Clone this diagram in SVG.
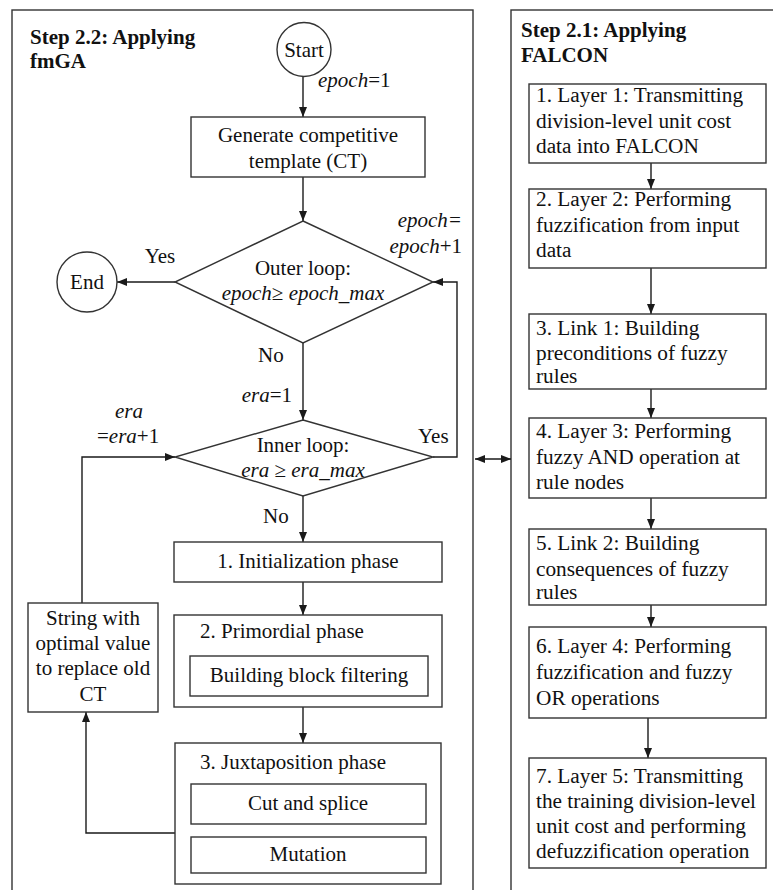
<svg xmlns="http://www.w3.org/2000/svg" width="773" height="890" viewBox="0 0 773 890">
<defs>
<marker id="ah" markerUnits="userSpaceOnUse" markerWidth="10" markerHeight="8" refX="10" refY="4" orient="auto-start-reverse">
<path d="M0,0 L10,4 L0,8 z" fill="#1a1a1a"/>
</marker>
</defs>
<style>
text{font-family:"Liberation Serif","Times New Roman",serif;font-size:21px;fill:#111}
.b{font-weight:bold}
.i{font-style:italic}
.c{text-anchor:middle}
.r{font-size:21.3px}
.box{fill:#fff;stroke:#333;stroke-width:1.4}
.panel{fill:none;stroke:#333;stroke-width:1.4}
.con path{fill:none;stroke:#1a1a1a;stroke-width:1.4}
.ar{marker-end:url(#ah)}
</style>
<rect width="773" height="890" fill="#fff"/>

<g id="panel-fmga">
<rect class="panel" x="12" y="10" width="461" height="900"/>
<text class="b" x="30" y="44">Step 2.2: Applying</text>
<text class="b" x="30" y="68">fmGA</text>
</g>
<g id="panel-falcon">
<rect class="panel" x="511" y="10" width="300" height="900"/>
<text class="b" x="521" y="37">Step 2.1: Applying</text>
<text class="b" x="521" y="62">FALCON</text>
</g>

<g class="con" id="connectors">
<path class="ar" d="M303,76 V117"/>
<path class="ar" d="M303,177 V221"/>
<path class="ar" d="M175,282 H117"/>
<path class="ar" d="M303,343 V420"/>
<path class="ar" d="M433,457 H457 V282 H433"/>
<path class="ar" d="M303,496 V542"/>
<path class="ar" d="M303,582 V615"/>
<path class="ar" d="M303,707 V743"/>
<path class="ar" d="M175,833 H86 V712"/>
<path class="ar" d="M82,603 V457 H175"/>
<path class="ar" d="M475,459 H511" style="marker-start:url(#ah)"/>
<path class="ar" d="M651,163 V189"/>
<path class="ar" d="M651,268 V314"/>
<path class="ar" d="M651,389 V418"/>
<path class="ar" d="M651,498 V529"/>
<path class="ar" d="M651,605 V627"/>
<path class="ar" d="M648,718 V758"/>
</g>

<g id="start">
<circle class="box" cx="304" cy="49.5" r="27"/>
<text class="c" x="304" y="57">Start</text>
</g>
<text x="318" y="87"><tspan class="i">epoch</tspan>=1</text>

<g id="generate">
<rect class="box" x="191" y="117" width="234" height="60"/>
<text class="c" x="308" y="142">Generate competitive</text>
<text class="c" x="308" y="168">template (CT)</text>
</g>

<g id="outer-loop">
<polygon class="box" points="303,221 433,282 303,343 175,282"/>
<text class="c" x="303" y="275">Outer loop:</text>
<text class="c" x="303" y="300"><tspan class="i">epoch</tspan>≥ <tspan class="i">epoch_max</tspan></text>
</g>
<text x="462" y="227" class="i" text-anchor="end">epoch=</text>
<text x="462" y="253" text-anchor="end"><tspan class="i">epoch</tspan>+1</text>

<g id="end">
<circle class="box" cx="87" cy="282" r="30"/>
<text class="c" x="87" y="289">End</text>
</g>
<text class="c" x="160" y="263">Yes</text>
<text x="258" y="362">No</text>
<text x="292" y="402" text-anchor="end"><tspan class="i">era</tspan>=1</text>
<text x="115" y="418" class="i">era</text>
<text x="97" y="443">=<tspan class="i">era</tspan>+1</text>

<g id="inner-loop">
<polygon class="box" points="303,420 433,457 303,496 175,457"/>
<text class="c" x="303" y="452">Inner loop:</text>
<text class="c" x="303" y="477"><tspan class="i">era</tspan> ≥ <tspan class="i">era_max</tspan></text>
</g>
<text x="418" y="443">Yes</text>
<text x="263" y="523">No</text>

<g id="init">
<rect class="box" x="174" y="542" width="268" height="40"/>
<text class="c" x="308" y="568">1. Initialization phase</text>
</g>

<g id="primordial">
<rect class="box" x="174" y="615" width="268" height="92"/>
<text x="200" y="638">2. Primordial phase</text>
<rect class="box" x="190" y="656" width="238" height="40"/>
<text class="c" x="309" y="682">Building block filtering</text>
</g>

<g id="juxtaposition">
<rect class="box" x="175" y="743" width="266" height="141"/>
<text x="200" y="769">3. Juxtaposition phase</text>
<rect class="box" x="191" y="784" width="235" height="40"/>
<text class="c" x="308" y="810">Cut and splice</text>
<rect class="box" x="191" y="837" width="235" height="36"/>
<text class="c" x="308" y="861">Mutation</text>
</g>

<g id="string-box">
<rect class="box" x="28" y="603" width="130" height="109"/>
<text class="c" x="93" y="625">String with</text>
<text class="c" x="93" y="650">optimal value</text>
<text class="c" x="93" y="675">to replace old</text>
<text class="c" x="93" y="701">CT</text>
</g>

<g id="layer1">
<rect class="box" x="529" y="84" width="237" height="79"/>
<text class="r" x="536" y="102">1. Layer 1: Transmitting</text>
<text class="r" x="536" y="128">division-level unit cost</text>
<text class="r" x="536" y="153">data into FALCON</text>
</g>
<g id="layer2">
<rect class="box" x="529" y="189" width="237" height="79"/>
<text class="r" x="536" y="206">2. Layer 2: Performing</text>
<text class="r" x="536" y="232">fuzzification from input</text>
<text class="r" x="536" y="257">data</text>
</g>
<g id="link1">
<rect class="box" x="529" y="314" width="237" height="75"/>
<text class="r" x="536" y="335">3. Link 1: Building</text>
<text class="r" x="536" y="360">preconditions of fuzzy</text>
<text class="r" x="536" y="383">rules</text>
</g>
<g id="layer3">
<rect class="box" x="529" y="418" width="237" height="80"/>
<text class="r" x="536" y="438">4. Layer 3: Performing</text>
<text class="r" x="536" y="464">fuzzy AND operation at</text>
<text class="r" x="536" y="489">rule nodes</text>
</g>
<g id="link2">
<rect class="box" x="529" y="529" width="237" height="76"/>
<text class="r" x="536" y="550">5. Link 2: Building</text>
<text class="r" x="536" y="576">consequences of fuzzy</text>
<text class="r" x="536" y="599">rules</text>
</g>
<g id="layer4">
<rect class="box" x="529" y="627" width="237" height="91"/>
<text class="r" x="536" y="653">6. Layer 4: Performing</text>
<text class="r" x="536" y="679">fuzzification and fuzzy</text>
<text class="r" x="536" y="705">OR operations</text>
</g>
<g id="layer5">
<rect class="box" x="529" y="758" width="237" height="110"/>
<text class="r" x="536" y="783">7. Layer 5: Transmitting</text>
<text class="r" x="536" y="808">the training division-level</text>
<text class="r" x="536" y="833">unit cost and performing</text>
<text class="r" x="536" y="858">defuzzification operation</text>
</g>
</svg>
